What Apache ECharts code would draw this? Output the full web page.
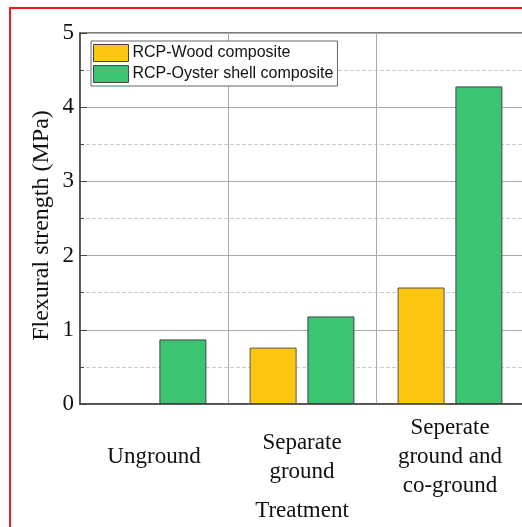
<!DOCTYPE html>
<html><head><meta charset="utf-8">
<script src="https://cdn.jsdelivr.net/npm/echarts@6/dist/echarts.min.js"></script>
<style>html,body{margin:0;padding:0;background:#fff}#c{width:522px;height:527px}</style>
</head><body><div id="c"></div>
<script>
var categories = ['Unground', 'Separate\nground', 'Seperate\nground and\nco-ground'];
var seriesNames = ['RCP-Wood composite', 'RCP-Oyster shell composite'];
var woodValues = [null, 0.76, 1.57];
var oysterValues = [0.87, 1.18, 4.28];
var yTicks = [0, 1, 2, 3, 4, 5];

var chart = echarts.init(document.getElementById('c'));
var serif = '"Liberation Serif", "Times New Roman", serif';
chart.setOption({
  animation: false,
  graphic: [{
    type: 'rect', silent: true, z: 100,
    shape: {x: 10, y: 8, width: 700, height: 700},
    style: {fill: 'none', stroke: '#ee1c25', lineWidth: 2}
  }],
  legend: {
    orient: 'vertical', left: 91, top: 41,
    icon: 'rect',
    itemWidth: 35, itemHeight: 17, itemGap: 3,
    padding: [3, 4, 3, 2],
    borderColor: '#666', borderWidth: 1, backgroundColor: '#fff',
    textStyle: {fontFamily: '"Liberation Sans", Arial, sans-serif', fontSize: 16, color: '#111', padding: [0,0,0,-1]},
    itemStyle: {borderColor: '#444', borderWidth: 1},
    data: seriesNames
  },
  grid: {left: 80, top: 33, width: 444, height: 371, outerBoundsMode: 'none', containLabel: false,
         show: true, borderColor: '#555', borderWidth: 1.5, backgroundColor: 'transparent'},
  xAxis: {
    type: 'category', data: categories,
    name: 'Treatment', nameLocation: 'middle', nameGap: 95, nameMoveOverlap: false,
    nameTextStyle: {fontFamily: serif, fontSize: 23, color: '#111'},
    axisLine: {lineStyle: {color: '#444', width: 1.5}},
    axisTick: {show: false},
    splitLine: {show: true, lineStyle: {color: '#aaa', width: 1}},
    axisLabel: {fontFamily: serif, fontSize: 23, color: '#111', lineHeight: 29, margin: 53, verticalAlign: 'middle', interval: 0}
  },
  yAxis: {
    type: 'value', min: yTicks[0], max: yTicks[yTicks.length - 1], interval: 1,
    name: 'Flexural strength (MPa)', nameLocation: 'middle', nameGap: 26, nameMoveOverlap: false,
    nameTextStyle: {fontFamily: serif, fontSize: 24, color: '#111', padding: [0, 14, 0, 0]},
    axisLine: {show: true, lineStyle: {color: '#444', width: 1.5}},
    axisTick: {show: true, inside: true, length: 7, lineStyle: {color: '#444'}},
    minorTick: {show: true, splitNumber: 2, length: 4, lineStyle: {color: '#444'}},
    splitLine: {show: true, lineStyle: {color: '#aaa', width: 1}},
    minorSplitLine: {show: true, lineStyle: {color: '#ccc', type: 'dashed', width: 1}},
    axisLabel: {fontFamily: serif, fontSize: 23, color: '#111', margin: 6}
  },
  series: [
    {name: seriesNames[0], type: 'bar', data: woodValues, barWidth: 47, barGap: '23%',
     itemStyle: {color: '#fcc512', borderColor: '#555', borderWidth: 1}},
    {name: seriesNames[1], type: 'bar', data: oysterValues, barWidth: 47, barGap: '23%',
     itemStyle: {color: '#3bc572', borderColor: '#444', borderWidth: 1}}
  ]
});
</script></body></html>
